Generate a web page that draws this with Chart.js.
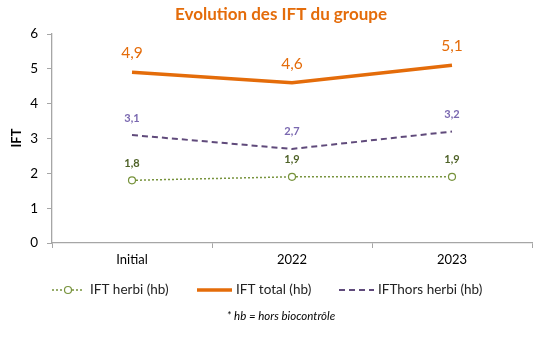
<!DOCTYPE html>
<html>
<head>
<meta charset="utf-8">
<script src="https://cdn.jsdelivr.net/npm/chart.js@4.4.1/dist/chart.umd.min.js"></script>
<style>
  html, body { margin: 0; padding: 0; background: #fff; }
  #wrap { width: 539px; height: 341px; position: relative; }
</style>
</head>
<body>
<div id="wrap"><canvas id="ift-chart" width="539" height="341"></canvas></div>
<script>
// données
const categories = ['Initial', '2022', '2023'];
const iftHerbi = [1.8, 1.9, 1.9];
const iftTotal = [4.9, 4.6, 5.1];
const iftHorsHerbi = [3.1, 2.7, 3.2];
const yTicks = [0, 1, 2, 3, 4, 5, 6];

const FONT = 'Lato, "Liberation Sans", sans-serif';
const fmt = v => v.toFixed(1).replace('.', ',');

// étiquettes de valeurs au-dessus des points
const labelsPlugin = {
    id: 'valueLabels',
    afterDatasetsDraw(chart) {
        const ctx = chart.ctx;
        ctx.save();
        ctx.textAlign = 'center';
        ctx.textBaseline = 'middle';
        chart.data.datasets.forEach((ds, i) => {
            const meta = chart.getDatasetMeta(i);
            meta.data.forEach((pt, j) => {
                ctx.font = ds.labelFont;
                ctx.fillStyle = ds.labelColor;
                ctx.fillText(fmt(ds.data[j]), pt.x, pt.y - ds.labelOffset);
            });
        });
        ctx.restore();
    }
};

// titre, titre d'axe, légende et note
const decorPlugin = {
    id: 'decor',
    afterDraw(chart) {
        const ctx = chart.ctx;
        ctx.save();
        ctx.textBaseline = 'middle';

        ctx.fillStyle = '#E46C0A';
        ctx.font = 'bold 17px ' + FONT;
        ctx.textAlign = 'center';
        ctx.fillText('Evolution des IFT du groupe', 281, 15);

        ctx.save();
        ctx.translate(17, 138);
        ctx.rotate(-Math.PI / 2);
        ctx.fillStyle = '#000';
        ctx.font = 'bold 13px ' + FONT;
        ctx.fillText('IFT', 0, 0);
        ctx.restore();

        // légende
        const ly = 290;
        ctx.textAlign = 'left';
        ctx.font = '13.5px ' + FONT;
        const items = [
            { x0: 52, x1: 84, tx: 90, text: 'IFT herbi (hb)', ds: 0 },
            { x0: 197, x1: 232, tx: 236, text: 'IFT total (hb)', ds: 1 },
            { x0: 339, x1: 374, tx: 378, text: 'IFThors herbi (hb)', ds: 2 }
        ];
        items.forEach(it => {
            const ds = chart.data.datasets[it.ds];
            ctx.strokeStyle = ds.borderColor;
            ctx.lineWidth = ds.borderWidth;
            ctx.setLineDash(ds.borderDash || []);
            ctx.beginPath();
            ctx.moveTo(it.x0, ly);
            ctx.lineTo(it.x1, ly);
            ctx.stroke();
            ctx.setLineDash([]);
            if (ds.pointRadius > 0) {
                ctx.beginPath();
                ctx.arc((it.x0 + it.x1) / 2, ly, ds.pointRadius, 0, Math.PI * 2);
                ctx.fillStyle = '#fff';
                ctx.fill();
                ctx.lineWidth = 1.2;
                ctx.stroke();
            }
            ctx.fillStyle = '#222';
            ctx.fillText(it.text, it.tx, ly);
        });

        ctx.textAlign = 'center';
        ctx.font = 'italic 11.5px ' + FONT;
        ctx.fillStyle = '#000';
        ctx.fillText('* hb = hors biocontrôle', 281, 316);
        ctx.restore();
    }
};

const ctx = document.getElementById('ift-chart').getContext('2d');
new Chart(ctx, {
    type: 'line',
    data: {
        labels: categories,
        datasets: [
            {
                label: 'IFT herbi (hb)',
                data: iftHerbi,
                borderColor: '#77933C',
                borderWidth: 1.5,
                borderDash: [2, 2],
                pointRadius: 3.5,
                pointBorderWidth: 1.2,
                pointBackgroundColor: '#fff',
                pointBorderColor: '#77933C',
                labelColor: '#4F6228',
                labelFont: 'bold 11px ' + FONT,
                labelOffset: 17
            },
            {
                label: 'IFT total (hb)',
                data: iftTotal,
                borderColor: '#E46C0A',
                borderWidth: 3.5,
                pointRadius: 0,
                labelColor: '#E46C0A',
                labelFont: '15.5px ' + FONT,
                labelOffset: 19
            },
            {
                label: 'IFThors herbi (hb)',
                data: iftHorsHerbi,
                borderColor: '#604A7B',
                borderWidth: 2,
                borderDash: [6, 4],
                pointRadius: 0,
                labelColor: '#7A68B0',
                labelFont: 'bold 11px ' + FONT,
                labelOffset: 17
            }
        ]
    },
    options: {
        responsive: false,
        animation: false,
        tension: 0,
        layout: { padding: { top: 34, right: 7, bottom: 68, left: 0 } },
        plugins: {
            legend: { display: false },
            tooltip: { enabled: false }
        },
        scales: {
            x: {
                offset: true,
                grid: {
                    offset: true,
                    display: true,
                    drawOnChartArea: false,
                    drawTicks: true,
                    tickLength: 5,
                    color: '#A6A6A6'
                },
                border: { color: '#A6A6A6', width: 1.3 },
                ticks: {
                    color: '#000',
                    font: { family: FONT, size: 13 },
                    padding: 4
                },
                afterFit: s => { s.height = 30; }
            },
            y: {
                min: 0,
                max: 6,
                afterBuildTicks: s => { s.ticks = yTicks.map(v => ({ value: v })); },
                grid: {
                    drawOnChartArea: false,
                    drawTicks: true,
                    tickLength: 5,
                    color: '#A6A6A6'
                },
                border: { color: '#A6A6A6', width: 1.3 },
                ticks: {
                    color: '#000',
                    font: { family: FONT, size: 13.5 },
                    padding: 9
                },
                afterFit: s => { s.width = 52; }
            }
        }
    },
    plugins: [labelsPlugin, decorPlugin]
});
</script>
</body>
</html>
